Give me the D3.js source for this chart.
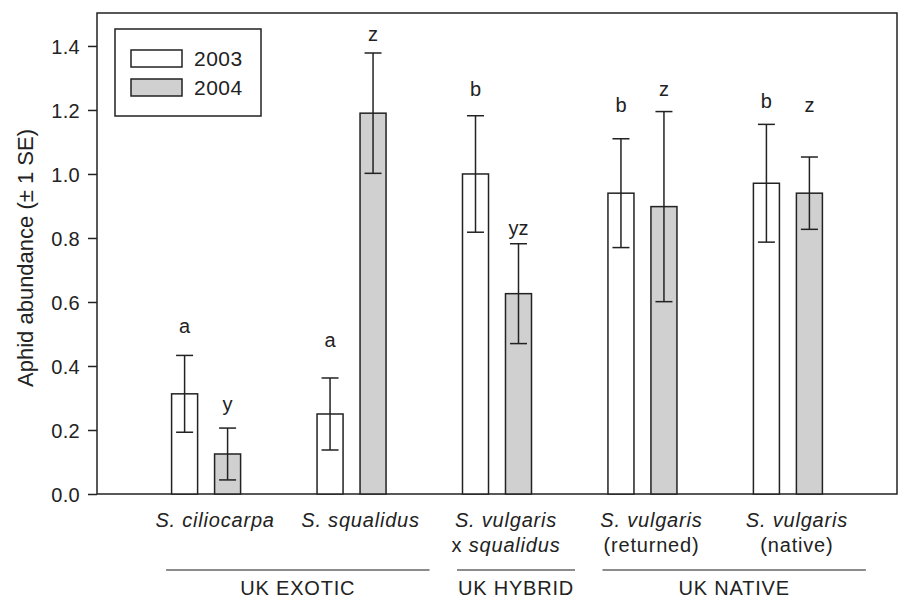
<!DOCTYPE html>
<html><head><meta charset="utf-8">
<script src="https://cdn.jsdelivr.net/npm/d3@7"></script>
<style>
body{margin:0;background:#fff;}
svg{display:block;font-family:"Liberation Sans",Arial,sans-serif;}
</style></head>
<body><svg id="c" width="898" height="600"></svg>
<script>
// ---- data ----
const categories = ["ciliocarpa","squalidus","hybrid","returned","native"];
const labelLine1 = [
  [{t:"S. ciliocarpa",i:true}],
  [{t:"S. squalidus",i:true}],
  [{t:"S. vulgaris",i:true}],
  [{t:"S. vulgaris",i:true}],
  [{t:"S. vulgaris",i:true}]
];
const labelLine2 = [
  [],
  [],
  [{t:"x ",i:false},{t:"squalidus",i:true}],
  [{t:"(returned)",i:false}],
  [{t:"(native)",i:false}]
];
const years = ["2003","2004"];
const values2003 = [0.313, 0.25, 1.0, 0.94, 0.971];
const se2003     = [0.12, 0.1125, 0.182, 0.17, 0.184];
const values2004 = [0.125, 1.19, 0.626, 0.898, 0.94];
const se2004     = [0.081, 0.188, 0.156, 0.297, 0.113];
const letters2003 = ["a","a","b","b","b"];
const letterAt2003 = [0.503, 0.46, 1.245, 1.195, 1.207];
const letters2004 = ["y","z","yz","z","z"];
const letterAt2004 = [0.259, 1.415, 0.809, 1.245, 1.195];
const groupNames = ["UK EXOTIC","UK HYBRID","UK NATIVE"];
const groupMembers = [["ciliocarpa","squalidus"],["hybrid"],["returned","native"]];
const yTicks = [0,0.2,0.4,0.6,0.8,1.0,1.2,1.4];

// ---- layout ----
const L=97, R=897, T=13, B=494;
const ink="#222";
const svg=d3.select("#c");
const x=d3.scaleBand().domain(categories).range([L,R]).paddingOuter(0.25).paddingInner(0);
const bw=x.bandwidth();
const xi=d3.scaleBand().domain(years).range([bw/2-34.5,bw/2+34.5]).paddingInner(0.395);
const y=d3.scaleLinear().domain([0,1.503]).range([B,T]);

const rows=[];
categories.forEach((c,i)=>{
  rows.push({c,yr:"2003",v:values2003[i],se:se2003[i],lt:letters2003[i],la:letterAt2003[i]});
  rows.push({c,yr:"2004",v:values2004[i],se:se2004[i],lt:letters2004[i],la:letterAt2004[i]});
});
const fill={"2003":"#ffffff","2004":"#d0d0d0"};

// frame
svg.append("rect").attr("x",L).attr("y",T).attr("width",R-L).attr("height",B-T)
  .attr("fill","none").attr("stroke",ink).attr("stroke-width",1.5);

// bars
svg.append("g").selectAll("rect").data(rows).join("rect")
  .attr("x",d=>x(d.c)+xi(d.yr)).attr("width",xi.bandwidth())
  .attr("y",d=>y(d.v)).attr("height",d=>B-y(d.v))
  .attr("fill",d=>fill[d.yr]).attr("stroke",ink).attr("stroke-width",1.5);

// error bars
const eg=svg.append("g").attr("stroke",ink).attr("stroke-width",1.5);
rows.forEach(d=>{
  const cx=x(d.c)+xi(d.yr)+xi.bandwidth()/2;
  eg.append("line").attr("x1",cx).attr("x2",cx).attr("y1",y(d.v+d.se)).attr("y2",y(d.v-d.se));
  [d.v+d.se,d.v-d.se].forEach(v=>eg.append("line").attr("x1",cx-8.5).attr("x2",cx+8.5).attr("y1",y(v)).attr("y2",y(v)));
});
// letters
svg.append("g").selectAll("text").data(rows).join("text")
  .attr("x",d=>x(d.c)+xi(d.yr)+xi.bandwidth()/2).attr("y",d=>y(d.la))
  .attr("text-anchor","middle").attr("font-size",20).attr("fill",ink).text(d=>d.lt);

// y axis
const ya=svg.append("g").attr("transform",`translate(${L},0)`)
  .call(d3.axisLeft(y).tickValues(yTicks).tickFormat(d3.format(".1f")).tickSize(9).tickPadding(8));
ya.select(".domain").remove();
ya.selectAll("line").attr("stroke",ink).attr("stroke-width",1.5);
ya.selectAll("text").attr("font-size",20).attr("fill",ink).attr("font-family","Liberation Sans, Arial, sans-serif").attr("dy","0.36em").attr("letter-spacing",0.3);

svg.append("text").attr("transform",`translate(33,258) rotate(-90)`).attr("text-anchor","middle")
  .attr("font-size",22).attr("fill",ink).text("Aphid abundance (\u00b1 1 SE)");

// category labels
function addLabel(parts,cx,yy){
  const t=svg.append("text").attr("x",cx).attr("y",yy).attr("text-anchor","middle")
    .attr("font-size",20).attr("fill",ink).attr("letter-spacing",0.8);
  parts.forEach(p=>t.append("tspan").attr("font-style",p.i?"italic":"normal").text(p.t));
}
categories.forEach((c,i)=>{
  const cx=x(c)+bw/2+9;
  addLabel(labelLine1[i],cx,527);
  if(labelLine2[i].length) addLabel(labelLine2[i],cx,552);
});

// group lines
groupNames.forEach((g,i)=>{
  const m=groupMembers[i];
  const x1=x(m[0])+bw/2-40, x2=x(m[m.length-1])+bw/2+78;
  svg.append("line").attr("x1",x1).attr("x2",x2).attr("y1",570).attr("y2",570)
    .attr("stroke","#666").attr("stroke-width",1.5);
  svg.append("text").attr("x",(x1+x2)/2).attr("y",595).attr("text-anchor","middle")
    .attr("font-size",20).attr("fill",ink).attr("letter-spacing",0.8).text(g);
});

// legend
const lg=svg.append("g");
lg.append("rect").attr("x",115).attr("y",29).attr("width",146).attr("height",87)
  .attr("fill","#fff").attr("stroke",ink).attr("stroke-width",1.5);
years.forEach((yr,i)=>{
  lg.append("rect").attr("x",131).attr("y",50+i*29).attr("width",51).attr("height",17)
    .attr("fill",fill[yr]).attr("stroke",ink).attr("stroke-width",1.5);
  lg.append("text").attr("x",194).attr("y",66+i*29).attr("font-size",21).attr("fill",ink)
    .attr("letter-spacing",0.5).text(yr);
});
</script></body></html>
